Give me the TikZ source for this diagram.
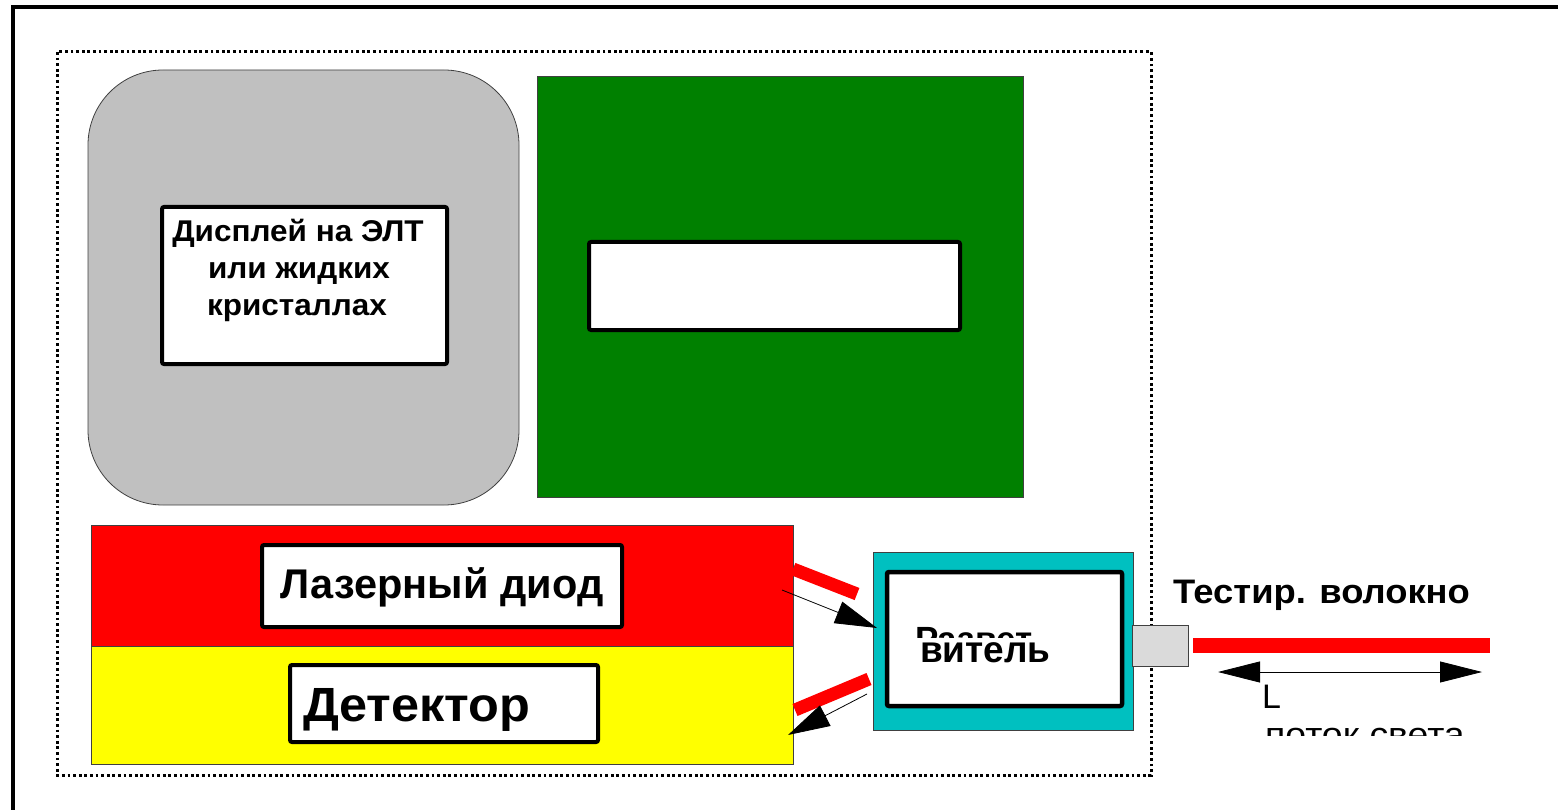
\documentclass[tikz,border=0pt]{standalone}
\usepackage{fontspec}
\usepackage{graphicx}
\setmainfont{Liberation Sans}
\usetikzlibrary{arrows.meta}
\definecolor{crtgray}{HTML}{C0C0C0}
\definecolor{boardgreen}{HTML}{008000}
\definecolor{laserred}{HTML}{FF0000}
\definecolor{detyellow}{HTML}{FFFF00}
\definecolor{splitcyan}{HTML}{00C0C0}
\definecolor{conngray}{HTML}{DADADA}
\tikzset{
  panel/.style={draw=black!75, line width=0.8pt, inner sep=0pt, outer sep=0pt},
  whitebox/.style={draw=black, fill=white, line width=4pt, rounded corners=2pt, inner sep=0pt, outer sep=0pt},
  btext/.style={inner sep=0pt, outer sep=0pt, font=\bfseries},
  rtext/.style={inner sep=0pt, outer sep=0pt},
  beam/.style={line width=13pt, laserred},
  ray/.style={line width=0.8pt, -{Triangle[length=42pt,width=23pt]}},
  dim/.style={line width=0.8pt, {Triangle[length=42pt,width=21pt]}-{Triangle[length=42pt,width=21pt]}}
}
\begin{document}
\begin{tikzpicture}[x=1pt,y=-1pt]
\useasboundingbox (0,0) rectangle (1558,810);
% outer frame
\draw[line width=4pt] (12.5,812) -- (12.5,7) -- (1560,7);
% dotted enclosure
\draw[line width=3pt, dash pattern=on 2.8pt off 2.8pt] (57,52) rectangle (1151,775);
% CRT display
\node[panel, fill=crtgray, rounded corners=75pt, minimum width=431pt, minimum height=435pt] (crt) at (303.5,287.5) {};
\node[whitebox, minimum width=285pt, minimum height=157pt] (disp) at (304.5,285.5) {};
\node[btext, anchor=base, font=\bfseries\fontsize{30}{36}\selectfont] (d1) at (298,242) {\scalebox{1.05}[1]{Дисплей на ЭЛТ}};
\node[btext, anchor=base, font=\bfseries\fontsize{30}{36}\selectfont] (d2) at (299,279) {\scalebox{1.05}[1]{или жидких}};
\node[btext, anchor=base, font=\bfseries\fontsize{30}{36}\selectfont] (d3) at (297,316) {\scalebox{1.05}[1]{кристаллах}};
% board
\node[panel, fill=boardgreen, minimum width=486pt, minimum height=421pt] (board) at (780,286.5) {};
\node[whitebox, minimum width=371pt, minimum height=88pt] (slot) at (774.5,286) {};
% laser / detector panels
\node[panel, fill=laserred, minimum width=702pt, minimum height=121pt] (lpanel) at (442,585.5) {};
\node[panel, fill=detyellow, minimum width=702pt, minimum height=118pt] (dpanel) at (442,705) {};
\node[whitebox, minimum width=360pt, minimum height=82pt] (lbox) at (442,586) {};
\node[whitebox, minimum width=308pt, minimum height=77pt] (dbox) at (444,703.5) {};
\node[btext, anchor=base, font=\bfseries\fontsize{41.5}{48}\selectfont] (ltext) at (442,598) {Лазерный диод};
\node[btext, anchor=base west, font=\bfseries\fontsize{48}{56}\selectfont] (dtext) at (303,721) {\scalebox{1.05}[1]{Детектор}};
% splitter
\node[panel, fill=splitcyan, minimum width=260pt, minimum height=178pt] (split) at (1003,641) {};
\node[whitebox, line width=4.5pt, minimum width=235pt, minimum height=134pt] (splitin) at (1004.5,639) {};
\begin{scope}
\clip (890,600) rectangle (1110,637);
\node[btext, anchor=base west, font=\bfseries\fontsize{35}{40}\selectfont] (s1) at (915,651) {Развет};
\end{scope}
\node[btext, anchor=base west, font=\bfseries\fontsize{37}{40}\selectfont] (s2) at (920,662) {витель};
% beams and rays
\coordinate (b1a) at (793,569);
\coordinate (b1b) at (857,594);
\coordinate (b2a) at (795,710);
\coordinate (b2b) at (869,679);
\draw[beam] (b1a) -- (b1b);
\draw[beam] (b2a) -- (b2b);
\coordinate (r1a) at (782,590);
\coordinate (r1b) at (877,628);
\coordinate (r2a) at (867,694);
\coordinate (r2b) at (788,735);
\draw[ray] (r1a) -- (r1b);
\draw[ray] (r2a) -- (r2b);
% connector and fiber
\node[panel, fill=conngray, minimum width=56pt, minimum height=41pt] (conn) at (1160,645.5) {};
\node[fill=laserred, inner sep=0pt, outer sep=0pt, minimum width=297pt, minimum height=15pt] (fiber) at (1341.5,645.5) {};
\node[btext, anchor=base west, font=\bfseries\fontsize{34}{40}\selectfont] (ftext) at (1173,603) {\scalebox{1.07}[1]{Тестир. волокно}};
\coordinate (L1) at (1218,672);
\coordinate (L2) at (1482,672);
\draw[dim] (L1) -- (L2);
\node[rtext, anchor=base west, font=\fontsize{34}{40}\selectfont] (Ltext) at (1262,708) {L};
\begin{scope}
\clip (1200,700) rectangle (1558,735);
\node[rtext, anchor=base west, font=\fontsize{34}{40}\selectfont] (flux) at (1265,746) {\scalebox{1.1}[1]{поток света}};
\end{scope}
\end{tikzpicture}
\end{document}
